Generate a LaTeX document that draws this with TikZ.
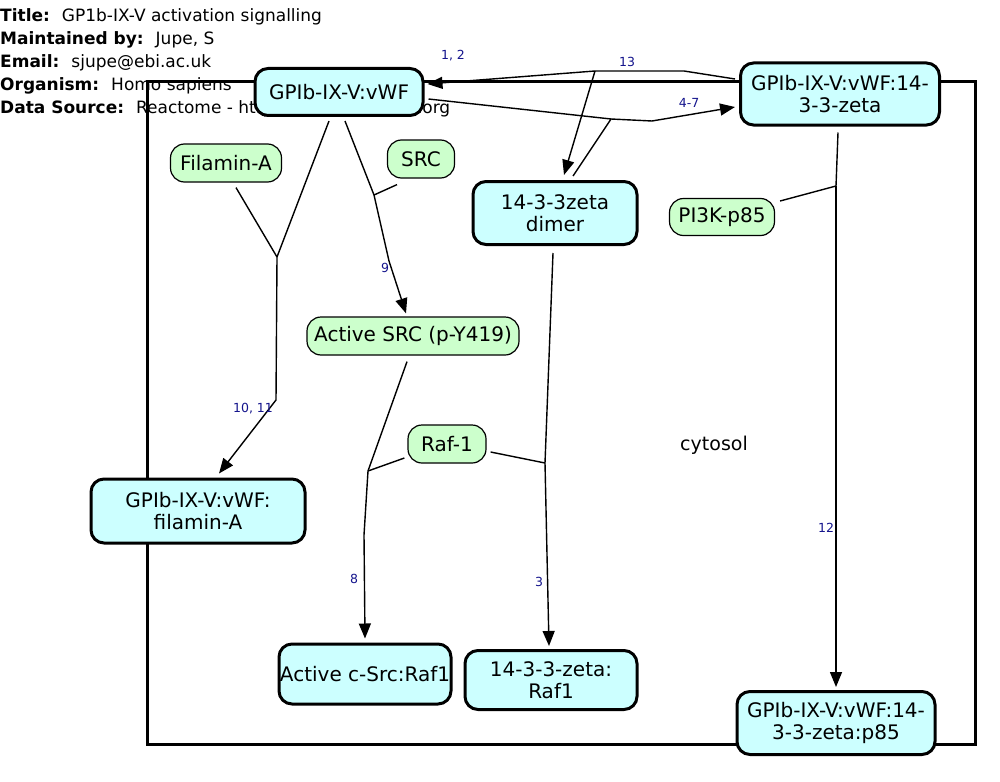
\documentclass[tikz,border=0pt]{standalone}
\usepackage{fontspec}
\setmainfont{DejaVu Sans}
\usetikzlibrary{arrows.meta}
\definecolor{cyanfill}{RGB}{204,255,255}
\definecolor{greenfill}{RGB}{204,255,204}
\definecolor{labblue}{RGB}{20,20,140}
\newcommand{\hgap}{\hspace{12pt}}
\begin{document}
\begin{tikzpicture}[x=1pt,y=-1pt,
  cyanbox/.style={draw, line width=3pt, rounded corners=13pt, fill=cyanfill, align=center, inner sep=0pt, font=\fontsize{20}{21.5}\selectfont},
  greenbox/.style={draw, line width=1.2pt, rounded corners=14pt, fill=greenfill, align=center, inner sep=0pt, font=\fontsize{20}{21.5}\selectfont},
  edge/.style={line width=1.4pt, line join=round},
  arr/.style={edge, -{Triangle[length=15pt,width=12pt]}},
  lab/.style={text=labblue, inner sep=0pt, font=\fontsize{12.5}{14}\selectfont},
  hdr/.style={anchor=west, inner sep=0pt, font=\fontsize{17}{19}\selectfont}
]
\useasboundingbox (0,0) rectangle (1000,781);
% header
\node[hdr] (h1) at (0,17) {\textbf{Title:}\hgap GP1b-IX-V activation signalling};
\node[hdr] (h2) at (0,40) {\textbf{Maintained by:}\hgap Jupe, S};
\node[hdr] (h3) at (0,63) {\textbf{Email:}\hgap sjupe@ebi.ac.uk};
\node[hdr] (h4) at (0,86) {\textbf{Organism:}\hgap Homo sapiens};
\node[hdr] (h5) at (0,109) {\textbf{Data Source:}\hgap Reactome - http://www.reactome.org};
% compartment
\draw[line width=3pt] (147,82) rectangle (975,744);
\node[inner sep=0pt, font=\fontsize{19}{21}\selectfont] (cyto) at (714,445) {cytosol};
% nodes
\node[cyanbox, minimum width=168pt, minimum height=47pt] (vwf) at (339,92) {GPIb-IX-V:vWF};
\node[cyanbox, minimum width=199pt, minimum height=62pt] (vwfz) at (840,94) {GPIb-IX-V:vWF:14-\\3-3-zeta};
\node[cyanbox, minimum width=164pt, minimum height=63pt] (dimer) at (555,213) {14-3-3zeta\\dimer};
\node[greenbox, minimum width=111pt, minimum height=38pt] (fil) at (226,163) {Filamin-A};
\node[greenbox, minimum width=67pt, minimum height=38pt] (src) at (421,159) {SRC};
\node[greenbox, minimum width=105pt, minimum height=37pt] (pi3k) at (722,217) {PI3K-p85};
\node[greenbox, minimum width=212pt, minimum height=38pt] (asrc) at (413,336) {Active SRC (p-Y419)};
\node[greenbox, minimum width=78pt, minimum height=38pt] (raf) at (447,444) {Raf-1};
\node[cyanbox, minimum width=214pt, minimum height=64pt] (vfil) at (198,511) {GPIb-IX-V:vWF:\\filamin-A};
\node[cyanbox, minimum width=172pt, minimum height=60pt] (csrc) at (365,674) {Active c-Src:Raf1};
\node[cyanbox, minimum width=172pt, minimum height=59pt] (zraf) at (551,680) {14-3-3-zeta:\\Raf1};
\node[cyanbox, minimum width=198pt, minimum height=63pt] (p85) at (836,723) {GPIb-IX-V:vWF:14-\\3-3-zeta:p85};
% branch points
\coordinate (b13) at (595,71);
\coordinate (b47) at (611,119);
\coordinate (b12) at (836,186);
\coordinate (b9) at (374,195);
\coordinate (b10) at (277,257);
\coordinate (b8) at (368,471);
\coordinate (b3) at (545,463);
% reaction 13
\draw[edge] ([shift={(-4,-15)}]vwfz.west) -- (684,71) -- (b13);
\draw[arr] (b13) -- ([shift={(3,-8)}]vwf.east);
\draw[arr] (b13) -- ([shift={(9,-5)}]dimer.north);
% reaction 4-7
\draw[edge] ([shift={(4,7)}]vwf.east) -- (b47);
\draw[edge] ([shift={(18,-4)}]dimer.north) -- (b47);
\draw[arr] (b47) -- (652,121) -- ([shift={(-4,13)}]vwfz.west);
% reaction 12
\draw[edge] ([shift={(-2,6)}]vwfz.south) -- (b12);
\draw[edge] ([shift={(5,-16)}]pi3k.east) -- (b12);
\draw[arr] (b12) -- ([shift={(0,-3)}]p85.north);
% reaction 9
\draw[edge] ([shift={(6,4)}]vwf.south) -- (b9);
\draw[edge] ([shift={(-24,6)}]src.south) -- (b9);
\draw[arr] (b9) -- (389,261) -- ([shift={(-7,-3)}]asrc.north);
% reaction 10, 11
\draw[edge] ([shift={(-10,4)}]vwf.south) -- (b10);
\draw[edge] ([shift={(10,5)}]fil.south) -- (b10);
\draw[arr] (b10) -- (276,400) -- ([shift={(21,-4)}]vfil.north);
% reaction 8
\draw[edge] ([shift={(-6,6)}]asrc.south) -- (b8);
\draw[edge] ([shift={(-3,14)}]raf.west) -- (b8);
\draw[arr] (b8) -- (364,535) -- ([shift={(0,-4)}]csrc.north);
% reaction 3
\draw[edge] ([shift={(-2,7)}]dimer.south) -- (b3);
\draw[edge] ([shift={(4,8)}]raf.east) -- (b3);
\draw[arr] (b3) -- ([shift={(-2,-3)}]zraf.north);
% labels
\node[lab] (l12a) at (453,56) {1, 2};
\node[lab] (l13) at (627,62) {13};
\node[lab] (l47) at (689,103) {4-7};
\node[lab] (l9) at (385,268) {9};
\node[lab] (l1011) at (253,409) {10, 11};
\node[lab] (l8) at (354,579) {8};
\node[lab] (l3) at (539,582) {3};
\node[lab] (l12) at (826,528) {12};
\end{tikzpicture}
\end{document}
